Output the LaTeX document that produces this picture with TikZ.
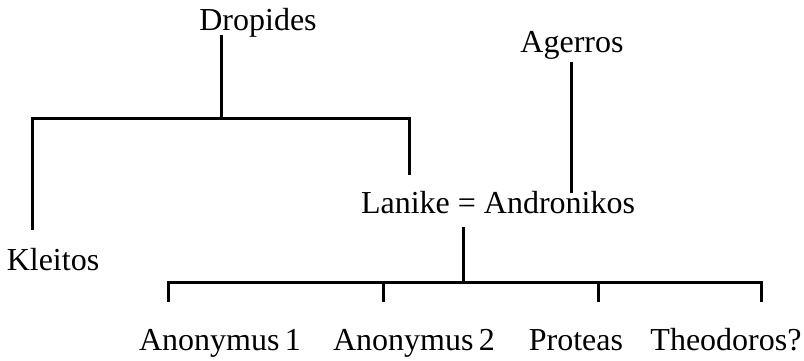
\documentclass[tikz,border=0pt]{standalone}
\usepackage{fontspec}
\setmainfont{Liberation Serif}
\begin{document}
\begin{tikzpicture}[x=1pt,y=1pt,
  person/.style={anchor=base,inner sep=0pt,font=\fontsize{32}{36}\selectfont},
  line/.style={line width=3pt,line cap=butt,line join=miter}]
\useasboundingbox (0,0) rectangle (804,360);
% people
\node[person] (drop) at (258,330) {Dropides};
\node[person] (ager) at (572,308) {Agerros};
\node[person] (couple) at (498,147) {Lanike = Andronikos};
\node[person] (kleit) at (53,90) {Kleitos};
\node[person] (an1) at (220,10) {Anonymus\,1};
\node[person] (an2) at (414,10) {Anonymus\,2};
\node[person] (prot) at (576,10) {Proteas};
\node[person] (theo) at (726,10) {Theodoros?};
% connection points
\coordinate (d1) at (221,325);
\coordinate (d2) at (221,242);
\coordinate (dl) at (32,242);
\coordinate (dr) at (409,242);
\coordinate (kl) at (32,130);
\coordinate (la) at (409,185);
\coordinate (a1) at (571,298);
\coordinate (a2) at (571,167);
\coordinate (c1) at (463,133);
\coordinate (c2) at (463,78);
\coordinate (b1) at (168,78);
\coordinate (b2) at (383,78);
\coordinate (b3) at (598,78);
\coordinate (b4) at (761,78);
\coordinate (t1) at (168,58);
\coordinate (t2) at (383,58);
\coordinate (t3) at (598,58);
\coordinate (t4) at (761,58);
% lines
\draw[line] (d1) -- (d2);
\draw[line] (kl) -- (dl) -- (dr) -- (la);
\draw[line] (a1) -- (a2);
\draw[line] (c1) -- (c2);
\draw[line] (t1) -- (b1) -- (b4) -- (t4);
\draw[line] (b2) -- (t2);
\draw[line] (b3) -- (t3);
\end{tikzpicture}
\end{document}
